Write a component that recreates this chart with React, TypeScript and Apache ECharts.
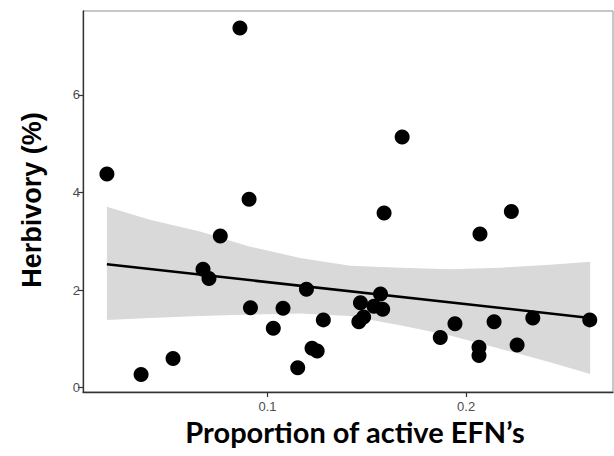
import React, { useEffect, useRef } from "react";
import * as echarts from "echarts";

// Observed points: proportion of active EFN's vs herbivory (%)
const efnProportion = [
  0.0191, 0.0363, 0.0524, 0.0861, 0.0907, 0.0762, 0.0675, 0.0705, 0.0914, 0.1078,
  0.1029, 0.1152, 0.1196, 0.1224, 0.1250, 0.1281, 0.1468, 0.1569, 0.1580, 0.1536,
  0.1484, 0.1460, 0.1678, 0.1587, 0.2228, 0.2070, 0.1944, 0.1870, 0.2141, 0.2336,
  0.2623, 0.2065, 0.2065, 0.2257,
];
const herbivory = [
  4.38, 0.27, 0.60, 7.37, 3.86, 3.11, 2.43, 2.24, 1.64, 1.63,
  1.22, 0.41, 2.02, 0.81, 0.75, 1.39, 1.74, 1.92, 1.61, 1.67,
  1.45, 1.35, 5.14, 3.58, 3.61, 3.15, 1.31, 1.03, 1.35, 1.43,
  1.39, 0.83, 0.66, 0.875,
];

// Fitted regression line (end points)
const fitX = [0.0191, 0.2625];
const fitY = [2.53, 1.43];

// Confidence band edges
const bandX = [0.0191, 0.0408, 0.066, 0.0912, 0.1164, 0.1416, 0.1667, 0.1919, 0.2171, 0.2423, 0.2625];
const bandLower = [1.39, 1.43, 1.47, 1.5, 1.52, 1.47, 1.28, 1.07, 0.8, 0.52, 0.28];
const bandUpper = [3.71, 3.44, 3.2, 2.89, 2.66, 2.5, 2.46, 2.43, 2.46, 2.52, 2.58];

const xTicks = [0.1, 0.2];
const yTicks = [0, 2, 4, 6];

const xTitle = "Proportion of active EFN\u2019s";
const yTitle = "Herbivory (%)";

export default function App() {
  const ref = useRef<HTMLDivElement>(null);

  useEffect(() => {
    if (!ref.current) return;
    const chart = echarts.init(ref.current, null, { renderer: "svg" });

    const points = efnProportion.map((x, i) => [x, herbivory[i]]);
    const fitLine = fitX.map((x, i) => [x, fitY[i]]);
    const bandData = bandX.map((x, i) => [x, bandLower[i], bandUpper[i]]);

    const option: any = {
      animation: false,
      backgroundColor: "#ffffff",
      grid: {
        left: 83,
        top: 11,
        right: 1,
        bottom: 64,
        show: true,
        borderColor: "#8f8f8f",
        borderWidth: 1,
        backgroundColor: "transparent",
      },
      xAxis: {
        type: "value",
        min: 0.00705,
        max: 0.274,
        splitLine: { show: false },
        axisLine: { show: true, onZero: false, lineStyle: { color: "#333333", width: 1.3 } },
        axisTick: { show: true, length: 5, customValues: xTicks, lineStyle: { color: "#333333", width: 1.2 } },
        axisLabel: {
          customValues: xTicks,
          color: "#4d4d4d",
          fontSize: 13,
          fontFamily: "Liberation Sans, Arial, sans-serif",
          margin: 8,
        },
      },
      yAxis: {
        type: "value",
        min: -0.088,
        max: 7.72,
        splitLine: { show: false },
        axisLine: { show: true, onZero: false, lineStyle: { color: "#333333", width: 1.3 } },
        axisTick: { show: true, length: 5, customValues: yTicks, lineStyle: { color: "#333333", width: 1.2 } },
        axisLabel: {
          customValues: yTicks,
          color: "#4d4d4d",
          fontSize: 13,
          fontFamily: "Liberation Sans, Arial, sans-serif",
          margin: 3,
        },
      },
      graphic: [
        {
          type: "text",
          x: 355,
          y: 431,
          style: {
            text: xTitle,
            fill: "#000000",
            font: "bold 29px Lato, 'Noto Sans', sans-serif",
            textAlign: "center",
            textVerticalAlign: "middle",
          },
        },
        {
          type: "text",
          x: 32,
          y: 200,
          rotation: Math.PI / 2,
          style: {
            text: yTitle,
            fill: "#000000",
            font: "bold 27px 'Liberation Sans', Arial, sans-serif",
            textAlign: "center",
            textVerticalAlign: "middle",
          },
        },
      ],
      series: [
        {
          type: "custom",
          coordinateSystem: "cartesian2d",
          data: bandData,
          z: 1,
          silent: true,
          renderItem: (params: any, api: any) => {
            if (params.dataIndex !== 0) return null;
            const upper = bandData.map((d) => api.coord([d[0], d[2]]));
            const lower = bandData
              .slice()
              .reverse()
              .map((d) => api.coord([d[0], d[1]]));
            return {
              type: "polygon",
              shape: { points: upper.concat(lower) },
              style: { fill: "#d9d9d9", stroke: "none" },
            };
          },
        },
        {
          type: "line",
          data: fitLine,
          z: 2,
          symbol: "none",
          silent: true,
          lineStyle: { color: "#000000", width: 2.6 },
        },
        {
          type: "scatter",
          data: points,
          z: 3,
          symbol: "circle",
          symbolSize: 15,
          itemStyle: { color: "#000000", opacity: 1 },
        },
      ],
    };

    chart.setOption(option);
    return () => chart.dispose();
  }, []);

  return (
    <div
      ref={ref}
      style={{ position: "absolute", left: 0, top: 0, width: 614, height: 456 }}
    />
  );
}
